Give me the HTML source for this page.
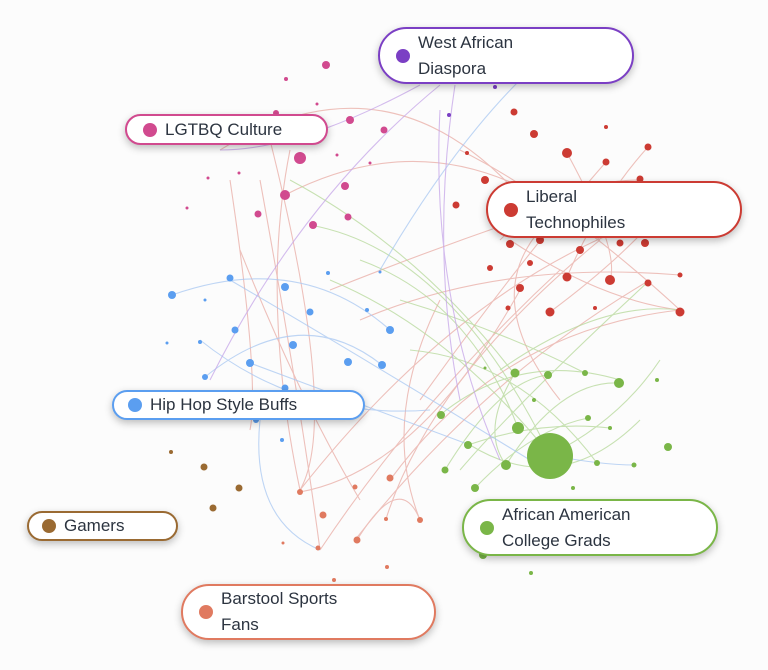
<!DOCTYPE html>
<html><head><meta charset="utf-8"><style>
body{margin:0;width:768px;height:670px;background:#fcfcfc;position:relative;overflow:hidden;font-family:"Liberation Sans",sans-serif}
svg{position:absolute;left:0;top:0}
.l{position:absolute;background:#fff;border:2px solid;box-sizing:border-box;border-radius:30px;box-shadow:0 3px 8px rgba(0,0,0,.25);color:#2c3440;font-size:17px;line-height:26px;display:flex;align-items:center}
.l i{display:inline-block;width:14px;height:14px;border-radius:50%;margin:0 8px 0 16px;flex:none}
</style></head><body>
<svg width="768" height="670" fill="none" stroke-width="1.1">
<g stroke="#e8a8a0" opacity=".7">
<path d="M220 150 Q400 40 540 220"/><path d="M285 195 Q450 110 600 240"/><path d="M300 490 Q450 300 620 230"/><path d="M320 550 Q420 400 560 270"/><path d="M390 480 Q500 330 680 310"/><path d="M355 540 Q480 380 650 280"/><path d="M300 490 Q260 300 290 150"/><path d="M320 550 Q300 400 260 180"/><path d="M420 520 Q380 420 440 300"/><path d="M460 150 Q560 200 680 310"/><path d="M510 240 Q600 300 680 310"/><path d="M567 153 Q620 250 610 280"/><path d="M540 230 Q480 300 560 400"/>
<path d="M240 250 Q300 400 360 500"/><path d="M230 180 Q260 380 250 430"/><path d="M330 290 Q480 230 640 180"/><path d="M360 320 Q500 260 680 275"/><path d="M386 519 Q430 380 600 240"/><path d="M300 492 Q420 470 520 290"/><path d="M357 540 Q400 470 420 520"/><path d="M270 140 Q340 420 300 490"/><path d="M500 240 Q560 180 640 180"/><path d="M567 277 Q600 200 648 147"/><path d="M550 312 Q620 260 660 213"/><path d="M420 400 Q520 260 606 162"/>
</g>
<g stroke="#b6d89a" opacity=".75">
<path d="M310 225 Q450 250 550 455"/><path d="M330 280 Q450 330 550 455"/><path d="M440 415 Q520 350 620 380"/><path d="M470 445 Q560 500 640 420"/><path d="M290 180 Q420 250 515 375"/><path d="M500 370 Q600 300 680 310"/><path d="M460 470 Q520 400 650 280"/><path d="M550 455 Q620 420 660 360"/>
<path d="M360 260 Q470 300 518 428"/><path d="M400 300 Q500 330 585 373"/><path d="M445 470 Q500 380 548 375"/><path d="M506 465 Q560 380 619 383"/><path d="M468 445 Q540 420 610 428"/><path d="M475 488 Q530 430 588 418"/><path d="M410 350 Q520 360 597 463"/><path d="M515 373 Q480 430 506 465"/>
</g>
<g stroke="#aac8f2" opacity=".75">
<path d="M230 280 Q350 350 530 460"/><path d="M200 340 Q300 420 430 410"/><path d="M260 420 Q250 520 320 550"/><path d="M380 270 Q450 150 520 80"/><path d="M550 455 Q600 465 635 465"/><path d="M172 295 Q300 250 390 330"/><path d="M205 377 Q300 300 382 365"/><path d="M250 363 Q350 400 470 445"/>
</g>
<g stroke="#c6a6e8" opacity=".75">
<path d="M440 85 Q300 200 210 380"/><path d="M455 85 Q430 250 460 400"/><path d="M440 110 Q430 300 500 460"/><path d="M420 85 Q300 150 220 150"/>
</g>
<g stroke="none">
<g fill="#d14a8f"><circle cx="326" cy="65" r="4"/><circle cx="350" cy="120" r="4"/><circle cx="384" cy="130" r="3.5"/><circle cx="300" cy="158" r="6"/><circle cx="285" cy="195" r="5"/><circle cx="345" cy="186" r="4"/><circle cx="313" cy="225" r="4"/><circle cx="258" cy="214" r="3.5"/><circle cx="348" cy="217" r="3.5"/><circle cx="276" cy="113" r="3"/><circle cx="286" cy="79" r="2"/><circle cx="317" cy="104" r="1.5"/><circle cx="208" cy="178" r="1.5"/><circle cx="239" cy="173" r="1.5"/><circle cx="187" cy="208" r="1.5"/><circle cx="337" cy="155" r="1.5"/><circle cx="370" cy="163" r="1.5"/></g>
<g fill="#7b3fc4"><circle cx="449" cy="115" r="2"/><circle cx="495" cy="87" r="2"/></g>
<g fill="#cc3b33"><circle cx="534" cy="134" r="4"/><circle cx="567" cy="153" r="5"/><circle cx="514" cy="112" r="3.5"/><circle cx="606" cy="162" r="3.5"/><circle cx="648" cy="147" r="3.5"/><circle cx="485" cy="180" r="4"/><circle cx="456" cy="205" r="3.5"/><circle cx="510" cy="244" r="4"/><circle cx="540" cy="240" r="4"/><circle cx="580" cy="250" r="4"/><circle cx="620" cy="243" r="3.5"/><circle cx="645" cy="243" r="4"/><circle cx="567" cy="277" r="4.5"/><circle cx="610" cy="280" r="5"/><circle cx="648" cy="283" r="3.5"/><circle cx="680" cy="312" r="4.5"/><circle cx="550" cy="312" r="4.5"/><circle cx="520" cy="288" r="4"/><circle cx="490" cy="268" r="3"/><circle cx="530" cy="263" r="3"/><circle cx="595" cy="308" r="2"/><circle cx="640" cy="179" r="3.5"/><circle cx="660" cy="213" r="3"/><circle cx="680" cy="275" r="2.5"/><circle cx="606" cy="127" r="2"/><circle cx="508" cy="308" r="2.5"/><circle cx="467" cy="153" r="2"/></g>
<g fill="#5b9ef0"><circle cx="172" cy="295" r="4"/><circle cx="230" cy="278" r="3.5"/><circle cx="285" cy="287" r="4"/><circle cx="235" cy="330" r="3.5"/><circle cx="310" cy="312" r="3.5"/><circle cx="293" cy="345" r="4"/><circle cx="250" cy="363" r="4"/><circle cx="390" cy="330" r="4"/><circle cx="382" cy="365" r="4"/><circle cx="348" cy="362" r="4"/><circle cx="205" cy="377" r="3"/><circle cx="285" cy="388" r="3.5"/><circle cx="256" cy="420" r="3"/><circle cx="282" cy="440" r="2"/><circle cx="367" cy="310" r="2"/><circle cx="200" cy="342" r="2"/><circle cx="328" cy="273" r="2"/><circle cx="205" cy="300" r="1.5"/><circle cx="167" cy="343" r="1.5"/><circle cx="380" cy="272" r="1.5"/></g>
<g fill="#7ab648"><circle cx="550" cy="456" r="23"/><circle cx="515" cy="373" r="4.5"/><circle cx="548" cy="375" r="4"/><circle cx="619" cy="383" r="5"/><circle cx="585" cy="373" r="3"/><circle cx="518" cy="428" r="6"/><circle cx="441" cy="415" r="4"/><circle cx="468" cy="445" r="4"/><circle cx="506" cy="465" r="5"/><circle cx="445" cy="470" r="3.5"/><circle cx="475" cy="488" r="4"/><circle cx="597" cy="463" r="3"/><circle cx="588" cy="418" r="3"/><circle cx="610" cy="428" r="2"/><circle cx="668" cy="447" r="4"/><circle cx="657" cy="380" r="2"/><circle cx="634" cy="465" r="2.5"/><circle cx="483" cy="555" r="4"/><circle cx="531" cy="573" r="2"/><circle cx="573" cy="488" r="2"/><circle cx="485" cy="368" r="1.5"/><circle cx="534" cy="400" r="2"/></g>
<g fill="#e07a60"><circle cx="300" cy="492" r="3"/><circle cx="323" cy="515" r="3.5"/><circle cx="355" cy="487" r="2.5"/><circle cx="390" cy="478" r="3.5"/><circle cx="357" cy="540" r="3.5"/><circle cx="420" cy="520" r="3"/><circle cx="318" cy="548" r="2.5"/><circle cx="386" cy="519" r="2"/><circle cx="283" cy="543" r="1.5"/><circle cx="387" cy="567" r="2"/><circle cx="334" cy="580" r="2"/></g>
<g fill="#9a6a32"><circle cx="171" cy="452" r="2"/><circle cx="204" cy="467" r="3.5"/><circle cx="239" cy="488" r="3.5"/><circle cx="213" cy="508" r="3.5"/></g>
</g>
</svg>
<div class="l" style="left:378px;top:27px;width:256px;height:57px;border-color:#7b3fc4"><i style="background:#7b3fc4"></i><span>West African<br>Diaspora</span></div>
<div class="l" style="left:125px;top:114px;width:203px;height:31px;border-color:#d14a8f"><i style="background:#d14a8f;margin-left:16px"></i><span>LGTBQ Culture</span></div>
<div class="l" style="left:486px;top:181px;width:256px;height:57px;border-color:#cc3b33"><i style="background:#cc3b33"></i><span>Liberal<br>Technophiles</span></div>
<div class="l" style="left:112px;top:390px;width:253px;height:30px;border-color:#5b9ef0"><i style="background:#5b9ef0;margin-left:14px"></i><span>Hip Hop Style Buffs</span></div>
<div class="l" style="left:27px;top:511px;width:151px;height:30px;border-color:#9a6a32"><i style="background:#9a6a32;margin-left:13px"></i><span>Gamers</span></div>
<div class="l" style="left:462px;top:499px;width:256px;height:57px;border-color:#7ab648"><i style="background:#7ab648"></i><span>African American<br>College Grads</span></div>
<div class="l" style="left:181px;top:584px;width:255px;height:56px;border-color:#e07a60"><i style="background:#e07a60"></i><span>Barstool Sports<br>Fans</span></div>
</body></html>
